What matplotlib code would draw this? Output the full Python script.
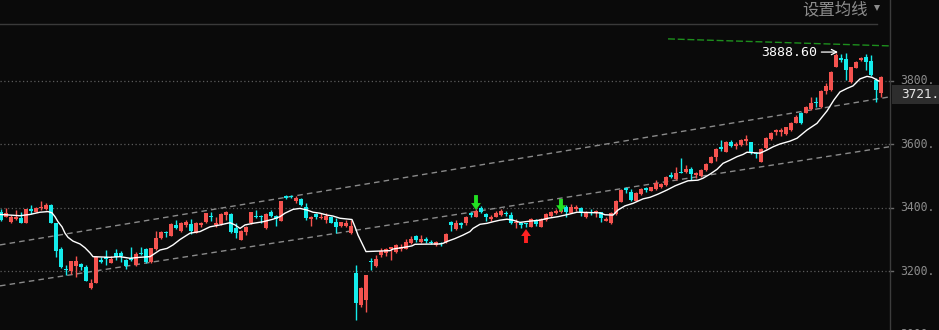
import matplotlib
matplotlib.use("Agg")
import matplotlib.pyplot as plt
from matplotlib.patches import Rectangle
from matplotlib.lines import Line2D

# ---------------- data ----------------
opens = [3388, 3372, 3356, 3364, 3369, 3353, 3395, 3388, 3398, 3395,
         3409, 3351, 3269, 3208, 3202, 3217, 3222, 3212, 3148, 3164,
         3235, 3244, 3227, 3259, 3259, 3235, 3241, 3220, 3259, 3269,
         3230, 3269, 3304, 3325, 3311, 3346, 3328, 3346, 3349, 3322,
         3346, 3356, 3374, 3345, 3348, 3377, 3379, 3337, 3298, 3325,
         3351, 3374, 3375, 3335, 3388, 3374, 3359, 3437, 3437, 3422,
         3428, 3401, 3364, 3379, 3367, 3361, 3372, 3356, 3343, 3343,
         3322, 3194, 3094, 3110, 3232, 3217, 3251, 3259, 3269, 3262,
         3270, 3270, 3288, 3311, 3293, 3302, 3293, 3283, 3290, 3291,
         3356, 3332, 3353, 3351, 3385, 3372, 3398, 3379, 3365, 3372,
         3377, 3383, 3377, 3351, 3353, 3351, 3340, 3362, 3340, 3361,
         3374, 3383, 3388, 3403, 3385, 3395, 3398, 3370, 3388, 3386,
         3386, 3359, 3351, 3380, 3419, 3461, 3451, 3422, 3443, 3461,
         3454, 3458, 3466, 3472, 3503, 3490, 3514, 3512, 3522, 3503,
         3501, 3519, 3542, 3561, 3592, 3577, 3606, 3595, 3598, 3610,
         3606, 3574, 3545, 3587, 3616, 3640, 3638, 3632, 3645, 3668,
         3700, 3700, 3710, 3734, 3716, 3769, 3771, 3845, 3871, 3869,
         3797, 3841, 3866, 3876, 3862, 3803, 3760]
highs = [3395, 3398, 3377, 3393, 3386, 3395, 3409, 3403, 3421, 3416,
         3412, 3353, 3277, 3220, 3232, 3248, 3227, 3220, 3176, 3248,
         3244, 3267, 3248, 3269, 3263, 3238, 3277, 3262, 3277, 3272,
         3273, 3328, 3327, 3327, 3351, 3361, 3356, 3362, 3364, 3354,
         3356, 3385, 3388, 3370, 3383, 3390, 3385, 3351, 3330, 3343,
         3388, 3393, 3377, 3383, 3393, 3377, 3422, 3439, 3439, 3437,
         3430, 3414, 3374, 3385, 3385, 3385, 3374, 3367, 3356, 3362,
         3362, 3220, 3149, 3188, 3241, 3251, 3272, 3272, 3277, 3286,
         3286, 3301, 3311, 3314, 3314, 3309, 3298, 3295, 3293, 3320,
         3359, 3362, 3354, 3374, 3387, 3395, 3406, 3383, 3377, 3390,
         3395, 3391, 3388, 3364, 3356, 3353, 3367, 3364, 3367, 3383,
         3391, 3395, 3395, 3409, 3411, 3409, 3401, 3390, 3396, 3393,
         3388, 3372, 3388, 3424, 3458, 3466, 3458, 3451, 3461, 3464,
         3466, 3487, 3477, 3500, 3514, 3527, 3558, 3535, 3529, 3514,
         3521, 3540, 3563, 3587, 3613, 3610, 3613, 3608, 3617, 3630,
         3608, 3577, 3587, 3624, 3640, 3647, 3650, 3656, 3671, 3692,
         3703, 3721, 3748, 3748, 3771, 3792, 3831, 3888.6, 3884, 3886,
         3845, 3862, 3876, 3883, 3881, 3808, 3815]
lows = [3359, 3372, 3351, 3361, 3351, 3353, 3379, 3386, 3393, 3393,
        3351, 3246, 3209, 3188, 3191, 3181, 3204, 3169, 3144, 3162,
        3225, 3220, 3225, 3235, 3230, 3206, 3233, 3218, 3251, 3227,
        3227, 3267, 3302, 3307, 3311, 3334, 3325, 3340, 3316, 3320,
        3340, 3351, 3359, 3340, 3346, 3362, 3320, 3306, 3298, 3314,
        3349, 3367, 3351, 3333, 3372, 3344, 3357, 3427, 3430, 3414,
        3406, 3362, 3344, 3364, 3365, 3353, 3351, 3320, 3340, 3340,
        3317, 3046, 3088, 3073, 3204, 3214, 3246, 3248, 3235, 3259,
        3265, 3269, 3286, 3293, 3288, 3290, 3285, 3281, 3281, 3288,
        3328, 3330, 3335, 3346, 3370, 3370, 3383, 3358, 3358, 3370,
        3375, 3375, 3349, 3337, 3335, 3340, 3338, 3344, 3338, 3359,
        3370, 3379, 3385, 3370, 3383, 3391, 3374, 3369, 3377, 3372,
        3356, 3358, 3349, 3378, 3417, 3448, 3422, 3420, 3441, 3450,
        3452, 3456, 3463, 3470, 3493, 3487, 3508, 3511, 3487, 3493,
        3498, 3517, 3540, 3548, 3580, 3575, 3592, 3584, 3595, 3598,
        3569, 3556, 3543, 3584, 3613, 3629, 3626, 3629, 3643, 3666,
        3664, 3698, 3708, 3719, 3714, 3758, 3769, 3842, 3860, 3803,
        3792, 3839, 3863, 3834, 3816, 3734, 3748]
closes = [3361, 3383, 3372, 3372, 3353, 3395, 3391, 3400, 3403, 3409,
          3353, 3265, 3214, 3204, 3232, 3232, 3212, 3170, 3164, 3244,
          3229, 3240, 3240, 3244, 3248, 3217, 3234, 3254, 3254, 3230,
          3272, 3304, 3325, 3321, 3349, 3335, 3351, 3356, 3327, 3353,
          3353, 3383, 3370, 3351, 3379, 3388, 3325, 3320, 3328, 3340,
          3386, 3370, 3370, 3379, 3374, 3364, 3421, 3430, 3433, 3430,
          3409, 3367, 3370, 3370, 3372, 3374, 3353, 3340, 3354, 3353,
          3343, 3099, 3146, 3188, 3228, 3238, 3265, 3269, 3275, 3283,
          3277, 3293, 3301, 3298, 3301, 3295, 3290, 3291, 3285, 3317,
          3346, 3353, 3346, 3372, 3377, 3391, 3388, 3372, 3370, 3383,
          3390, 3379, 3351, 3356, 3346, 3348, 3364, 3348, 3365, 3379,
          3388, 3390, 3393, 3386, 3403, 3403, 3383, 3388, 3383, 3390,
          3367, 3364, 3385, 3422, 3456, 3456, 3425, 3448, 3459, 3456,
          3464, 3477, 3474, 3498, 3496, 3511, 3511, 3522, 3506, 3511,
          3519, 3537, 3561, 3584, 3584, 3608, 3595, 3600, 3613, 3617,
          3577, 3569, 3584, 3621, 3637, 3645, 3645, 3653, 3668, 3685,
          3666, 3719, 3731, 3731, 3768, 3784, 3829, 3881, 3866, 3834,
          3842, 3860, 3873, 3860, 3818, 3771, 3813]

# white average line: vertices (bar index, price)
ma_idx = [-0.2, 3.8, 5.8, 7.8, 9.4, 10.2, 10.8, 11.4, 12.2, 12.8, 13.4, 14.4,
          15.8, 16.8, 17.8, 18.4, 21.8, 23.8, 25.8, 27.8, 29.8, 31.8, 33.2,
          34.4, 35.8, 37.8, 39.8, 41.8, 43.8, 45.8, 46.8, 47.8, 48.8, 50.4,
          52.4, 54.4, 55.8, 56.8, 58.4, 59.8, 61.2, 62.4, 63.8, 65.2, 66.4,
          67.8, 70.2, 70.8, 71.4, 72.2, 73.0, 77.8, 78.4, 81.2, 82.2, 82.8,
          87.8, 88.4, 89.4, 90.8, 92.4, 93.8, 94.4, 95.8, 97.2, 98.4, 99.8,
          101.2, 102.4, 103.8, 105.8, 107.8, 109.4, 111.4, 113.4, 115.2,
          119.8, 120.8, 122.4, 123.4, 124.8, 126.4, 128.4, 129.8, 131.4,
          133.2, 134.8, 136.4, 137.4, 139.4, 140.4, 141.8, 143.2, 144.4,
          145.8, 147.2, 148.4, 149.2, 151.8, 153.2, 154.4, 155.8, 157.8,
          159.2, 161.2, 163.2, 165.2, 166.6, 167.8, 169.2, 170.4, 171.8,
          173.2, 174.2, 174.8, 175.6]
ma_val = [3379, 3375, 3379, 3386, 3388, 3384, 3372, 3356, 3340, 3320, 3307,
          3295, 3286, 3274, 3258, 3246, 3244, 3246, 3241, 3244, 3246, 3267,
          3272, 3283, 3300, 3320, 3325, 3340, 3346, 3353, 3346, 3335, 3346,
          3351, 3356, 3364, 3372, 3383, 3395, 3398, 3393, 3386, 3383, 3377,
          3374, 3367, 3363, 3340, 3314, 3288, 3262, 3265, 3270, 3277, 3280,
          3285, 3286, 3288, 3295, 3303, 3314, 3325, 3335, 3348, 3351, 3356,
          3361, 3364, 3361, 3354, 3358, 3361, 3367, 3372, 3379, 3386, 3384,
          3378, 3377, 3393, 3406, 3414, 3428, 3433, 3443, 3456, 3469, 3479,
          3485, 3487, 3493, 3506, 3521, 3540, 3550, 3561, 3568, 3575, 3572,
          3582, 3592, 3601, 3610, 3619, 3645, 3666, 3705, 3740, 3765, 3776,
          3784, 3806, 3814, 3811, 3806, 3799]

# channel lines (start/end index and price)
chan_idx = [-0.2, 177.6]
chan_upper = [3283, 3749]
chan_lower = [3154, 3592]
green_idx = [133.4, 177.6]
green_val = [3932, 3910]

grid_levels = [3800, 3600, 3400, 3200, 3000]
grid_labels = ["3800.", "3600.", "3400.", "3200.", "3000."]

high_label = "3888.60"
high_pos = (167.4, 3890.5)
down_arrows = [(95, 3440, 3393), (112, 3428, 3386)]   # (index, tail, tip)
up_arrows = [(105, 3289, 3333)]
last_box = "3721."
header = "设置均线"

# ---------------- drawing ----------------
W, H = 939, 330
BG = "#0a0a0a"
RED = "#f5534f"
CYAN = "#14ecec"
GRAY = "#8c8c8c"

fig = plt.figure(figsize=(W / 100, H / 100), dpi=100, facecolor=BG)
ax = fig.add_axes([0, 0, 889 / W, 1])
ax.set_facecolor(BG)
ax.set_xlim(-0.2, 177.6)
ax.set_ylim(3015, 4054.5)
ax.axis("off")

# grid lines
for v in grid_levels:
    ax.plot([-0.2, 177.0], [v, v], color="#5c5c5c", lw=0.9,
            ls=(0, (1, 2)), zorder=0)

# channel lines
ax.plot(chan_idx, chan_upper, color="#8a8a8a", lw=1, ls=(0, (4, 3)), zorder=1)
ax.plot(chan_idx, chan_lower, color="#8a8a8a", lw=1, ls=(0, (4, 3)), zorder=1)
ax.plot(green_idx, green_val, color="#1d8f1d", lw=1, ls=(0, (5, 2)), zorder=1)

# candles
idx = list(range(len(opens)))
cols = [RED if c >= o else CYAN for o, c in zip(opens, closes)]
ax.vlines(idx, lows, highs, colors=cols, lw=1, zorder=2)
bottoms = [min(o, c) for o, c in zip(opens, closes)]
heights = [max(abs(c - o), 3) for o, c in zip(opens, closes)]
ax.bar(idx, heights, bottom=bottoms, width=0.66, color=cols,
       linewidth=0, zorder=2)

# white line
ax.plot(ma_idx, ma_val, color="white", lw=1, zorder=3)

# signal arrows
astyle = "simple,head_length=0.5,head_width=0.7,tail_width=0.28"
for i, tail, tip in down_arrows:
    ax.annotate("", xy=(i, tip), xytext=(i, tail),
                arrowprops=dict(arrowstyle=astyle, color="#22e022",
                                shrinkA=0, shrinkB=0, lw=0), zorder=4)
for i, tail, tip in up_arrows:
    ax.annotate("", xy=(i, tip), xytext=(i, tail),
                arrowprops=dict(arrowstyle=astyle, color="#ff2222",
                                shrinkA=0, shrinkB=0, lw=0), zorder=4)

# high label
ax.annotate(high_label, xy=high_pos, xytext=(-15, 0), textcoords="offset points",
            ha="right", va="center", color="white", fontsize=9.5,
            family="DejaVu Sans Mono",
            arrowprops=dict(arrowstyle="->", color="white", lw=0.9,
                            shrinkA=1, shrinkB=0), zorder=5)

# right axis
trans = ax.get_yaxis_transform()
for v, s in zip(grid_levels, grid_labels):
    ax.plot([1.0, 1.0045], [v, v], color="#6a6a6a", lw=1, transform=trans,
            clip_on=False)
    ax.text(900 / 889, v, s, transform=trans, color=GRAY, fontsize=8.3,
            family="DejaVu Sans Mono", va="center", ha="left", clip_on=False)

# frame lines
fig.add_artist(Line2D([889.5 / W, 889.5 / W], [0, 1], color="#3c3c3c", lw=1,
                      transform=fig.transFigure))
fig.add_artist(Line2D([0, 877 / W], [1 - 23.5 / H, 1 - 23.5 / H], color="#3a3a3a",
                      lw=1, transform=fig.transFigure))

# last price box
fig.add_artist(Rectangle((892 / W, 1 - 104 / H), 47 / W, 19 / H,
                         transform=fig.transFigure, facecolor="#2d2d2d",
                         edgecolor="none"))
fig.text(901 / W, 1 - 95 / H, last_box, color="#e6e6e6", fontsize=9.2,
         family="DejaVu Sans Mono", va="center", ha="left")

# header
fig.text(802 / W, 1 - 9.5 / H, header, color=GRAY, fontsize=11.8,
         family=["Noto Sans CJK SC", "DejaVu Sans"], va="center", ha="left")
fig.add_artist(Line2D([876.5 / W], [1 - 7.5 / H], marker="v", markersize=4,
                      color=GRAY, markeredgewidth=0, transform=fig.transFigure))

fig.savefig("out.png", dpi=100, facecolor=BG)
